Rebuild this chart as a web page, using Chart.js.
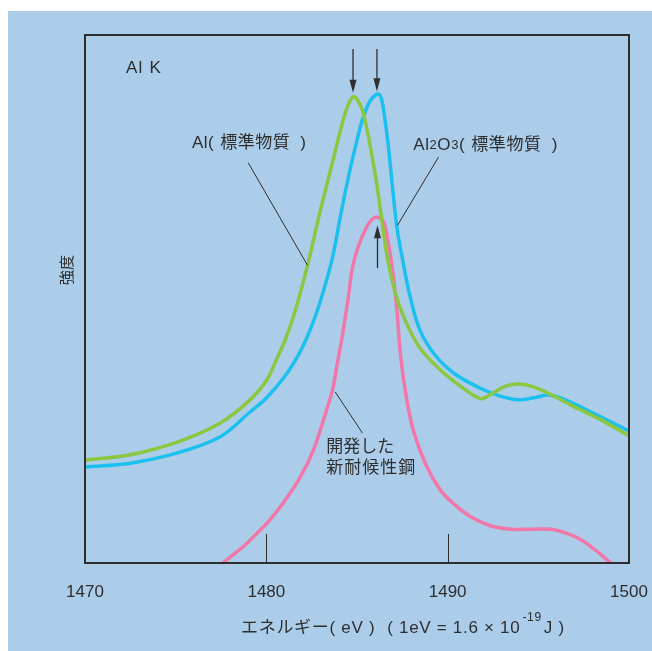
<!DOCTYPE html>
<html>
<head>
<meta charset="utf-8">
<script src="https://cdn.jsdelivr.net/npm/chart.js@4/dist/chart.umd.min.js"></script>
<style>
  html, body { margin: 0; padding: 0; background: #ffffff; }
  canvas { display: block; }
</style>
</head>
<body>
<canvas id="c" width="652" height="651"></canvas>
<script>
// Al K emission spectra: energy (eV) vs. relative intensity
const xTicks = [1470, 1480, 1490, 1500];

// Al (reference material)
const alEnergy = [1470, 1472.5, 1475.25, 1477.46, 1479.1, 1480.0, 1480.53, 1481.08, 1481.64, 1482.3, 1482.96, 1483.68, 1484.12, 1484.45, 1484.78, 1485.06, 1485.33, 1485.72, 1486.1, 1486.65, 1487.1, 1487.65, 1488.47, 1489.58, 1490.7, 1491.5, 1491.9, 1492.5, 1493.2, 1493.9, 1494.6, 1495.4, 1496.8, 1498.45, 1500];
const alIntensity = [19.5, 20.5, 23.1, 26.5, 30.9, 34.5, 38.3, 42.6, 48.3, 56.8, 66.5, 76.3, 82.4, 86.2, 88.3, 87.5, 85.4, 79.2, 71.6, 58.3, 51.3, 46.0, 40.7, 36.6, 33.5, 31.6, 31.1, 32.2, 33.5, 33.9, 33.5, 32.4, 29.9, 27.1, 24.1];

// Al2O3 (reference material)
const aloEnergy = [1470, 1472.5, 1475.25, 1477.46, 1479.1, 1480.0, 1481.03, 1481.86, 1482.41, 1482.96, 1483.62, 1484.12, 1484.61, 1485.0, 1485.33, 1485.72, 1486.1, 1486.27, 1486.43, 1486.71, 1486.99, 1487.2, 1487.54, 1487.92, 1488.47, 1489.3, 1490.4, 1491.8, 1492.9, 1493.9, 1494.9, 1495.5, 1496.2, 1497.9, 1500];
const aloIntensity = [18.2, 18.9, 21.0, 23.9, 28.6, 31.25, 35.4, 40.0, 44.1, 49.4, 57.4, 66.3, 74.4, 80.1, 84.3, 87.5, 88.8, 88.6, 86.6, 79.5, 70.1, 63.6, 57.0, 50.6, 44.1, 39.4, 35.8, 33.1, 31.6, 30.9, 31.4, 31.8, 31.3, 28.6, 25.0];

// Newly developed weathering steel
const steelEnergy = [1477.6, 1478.3, 1478.95, 1479.5, 1480.05, 1480.94, 1481.88, 1482.6, 1483.15, 1483.65, 1483.9, 1484.2, 1484.5, 1484.75, 1485.1, 1485.5, 1485.8, 1486.13, 1486.46, 1486.7, 1486.96, 1487.2, 1487.4, 1487.7, 1488.1, 1488.8, 1489.6, 1490.4, 1491.3, 1492.4, 1493.5, 1494.6, 1495.7, 1496.5, 1497.35, 1498.2, 1499.0];
const steelIntensity = [0, 1.9, 3.8, 5.7, 7.6, 11.4, 16.3, 21.4, 27.1, 32.8, 37.5, 43.2, 49.8, 55.9, 60.2, 63.4, 65.0, 65.5, 64.6, 61.2, 55.5, 47.9, 39.4, 31.8, 25.2, 18.6, 13.8, 11.0, 8.7, 7.0, 6.4, 6.4, 6.4, 5.7, 4.4, 2.3, 0];

const xTitle = 'エネルギー( eV )';
const yTitle = '強度';

const FONT = "'Liberation Sans', 'Noto Sans CJK JP', sans-serif";
const INK = '#2e2e2e';
const BG = '#abcdea';

function pts(xs, ys) { return xs.map((x, i) => ({ x: x, y: ys[i] })); }
function peakOf(xs, ys) {
  let k = 0;
  ys.forEach((v, i) => { if (v > ys[k]) k = i; });
  return { x: xs[k], y: ys[k] };
}

function drawRuns(ctx, x, y, runs, spacing) {
  ctx.textBaseline = 'middle';
  ctx.textAlign = 'left';
  ctx.letterSpacing = (spacing || 0) + 'px';
  runs.forEach(r => {
    ctx.font = (r.size || 17) + 'px ' + FONT;
    ctx.fillText(r.t, x, y + (r.dy || 0));
    x += ctx.measureText(r.t).width + (r.gap || 0);
  });
  ctx.letterSpacing = '0px';
}

function arrow(ctx, x, y0, y1) {
  // shaft from y0 to the tip at y1
  const dir = y1 > y0 ? 1 : -1;
  ctx.beginPath();
  ctx.moveTo(x, y0);
  ctx.lineTo(x, y1 - dir * 10);
  ctx.lineWidth = 1.3;
  ctx.strokeStyle = INK;
  ctx.stroke();
  ctx.beginPath();
  ctx.moveTo(x, y1);
  ctx.lineTo(x - 3.5, y1 - dir * 13);
  ctx.lineTo(x + 3.5, y1 - dir * 13);
  ctx.closePath();
  ctx.fillStyle = INK;
  ctx.fill();
}

const decor = {
  id: 'decor',
  beforeDraw(chart) {
    const ctx = chart.ctx;
    ctx.save();
    ctx.fillStyle = '#ffffff';
    ctx.fillRect(0, 0, chart.width, chart.height);
    ctx.fillStyle = BG;
    ctx.fillRect(8, 11, chart.width - 8, chart.height - 11);
    ctx.restore();
  },
  afterDraw(chart) {
    const ctx = chart.ctx;
    const a = chart.chartArea;
    const xs = chart.scales.x, ys = chart.scales.y;
    const px = v => xs.getPixelForValue(v);
    const py = v => ys.getPixelForValue(v);
    ctx.save();

    // frame
    ctx.strokeStyle = INK;
    ctx.lineWidth = 2;
    ctx.strokeRect(a.left, a.top, a.right - a.left, a.bottom - a.top);

    // inner tick marks
    ctx.lineWidth = 1;
    [1480, 1490].forEach(v => {
      const x = Math.round(px(v)) + 0.5;
      ctx.beginPath();
      ctx.moveTo(x, a.bottom - 29);
      ctx.lineTo(x, a.bottom);
      ctx.stroke();
    });

    // peak arrows
    const pAl = peakOf(alEnergy, alIntensity);
    const pAlo = peakOf(aloEnergy, aloIntensity);
    const pSt = peakOf(steelEnergy, steelIntensity);
    arrow(ctx, px(pAl.x), a.top + 14, py(pAl.y) - 4);
    arrow(ctx, px(pAlo.x), a.top + 14, py(pAlo.y) - 3);
    arrow(ctx, px(pSt.x), py(pSt.y) + 51, py(pSt.y) + 8);

    // leader lines
    ctx.lineWidth = 1;
    ctx.strokeStyle = INK;
    [[1479.0, 75.8, 1482.27, 56.4],
     [1489.5, 76.9, 1487.24, 64.0],
     [1483.8, 32.4, 1485.3, 24.6]].forEach(l => {
      ctx.beginPath();
      ctx.moveTo(px(l[0]), py(l[1]));
      ctx.lineTo(px(l[2]), py(l[3]));
      ctx.stroke();
    });

    // labels
    ctx.fillStyle = INK;
    drawRuns(ctx, px(1472.26), py(93.75), [{ t: 'Al K' }], 1.2);
    drawRuns(ctx, px(1475.9), py(79.5), [
      { t: 'Al(', gap: 6 }, { t: '標準物質', gap: 10 }, { t: ')' }], 0.5);
    drawRuns(ctx, px(1488.1), py(79.2), [
      { t: 'Al' }, { t: '2', size: 13, dy: 1 }, { t: 'O' }, { t: '3', size: 13, dy: 1 },
      { t: '(', gap: 6 }, { t: '標準物質', gap: 10 }, { t: ')' }], 0.6);
    drawRuns(ctx, px(1483.3), py(22.0), [{ t: '開発した' }], 0);
    drawRuns(ctx, px(1483.3), py(18.0), [{ t: '新耐候性鋼' }], 1);

    // axis titles
    drawRuns(ctx, 241, 628, [
      { t: xTitle, gap: 12 },
      { t: '( 1eV = 1.6 × 10', gap: 2 },
      { t: '-19', size: 12, dy: -10, gap: 2 },
      { t: 'J )' }], 0.7);
    ctx.save();
    ctx.translate(68, 270);
    ctx.rotate(-Math.PI / 2);
    ctx.textAlign = 'center';
    ctx.textBaseline = 'middle';
    ctx.font = '15px ' + FONT;
    ctx.fillText(yTitle, 0, 0);
    ctx.restore();

    ctx.restore();
  }
};

const common = { borderWidth: 3.5, pointRadius: 0, fill: false, tension: 0.35 };

new Chart(document.getElementById('c'), {
  type: 'line',
  data: {
    datasets: [
      Object.assign({ label: 'Al', data: pts(alEnergy, alIntensity), borderColor: '#8dc63f', order: 0 }, common),
      Object.assign({ label: 'Al2O3', data: pts(aloEnergy, aloIntensity), borderColor: '#1cc0ef', order: 1 }, common),
      Object.assign({ label: 'steel', data: pts(steelEnergy, steelIntensity), borderColor: '#f177a9', order: 2 }, common)
    ]
  },
  options: {
    responsive: false,
    animation: false,
    devicePixelRatio: 1,
    layout: { padding: { left: 0, top: 35, right: 23, bottom: 0 } },
    plugins: { legend: { display: false }, tooltip: { enabled: false } },
    scales: {
      x: {
        type: 'linear', min: 1470, max: 1500,
        afterFit(s) { s.height = 88; s.paddingLeft = 0; s.paddingRight = 0; },
        afterBuildTicks(s) { s.ticks = xTicks.map(v => ({ value: v })); },
        grid: { display: false, drawTicks: false },
        border: { display: false },
        ticks: { padding: 19, color: INK, font: { family: FONT, size: 17 }, maxRotation: 0, autoSkip: false,
                 callback: v => String(v) }
      },
      y: {
        min: 0, max: 100,
        afterFit(s) { s.width = 85; },
        grid: { display: false, drawTicks: false },
        border: { display: false },
        ticks: { display: false }
      }
    }
  },
  plugins: [decor]
});
</script>
</body>
</html>
